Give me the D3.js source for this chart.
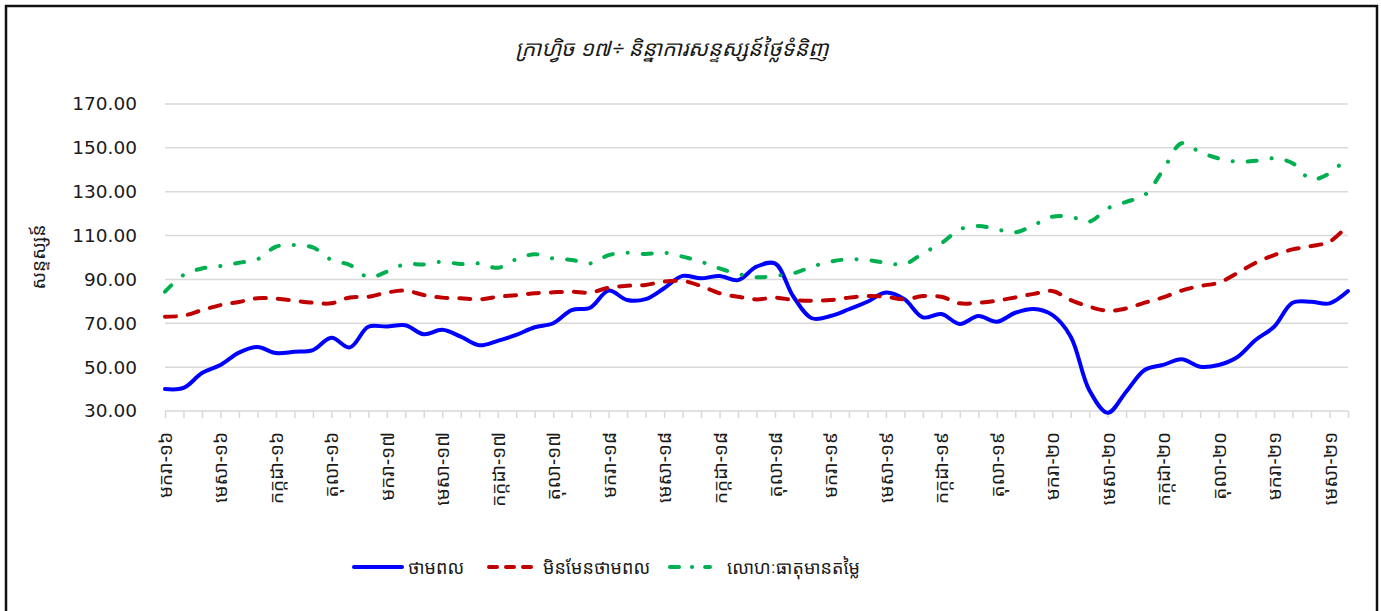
<!DOCTYPE html>
<html>
<head>
<meta charset="utf-8">
<script src="https://cdn.jsdelivr.net/npm/d3@7"></script>
<style>
  body { margin: 0; background: #fff; }
  svg { display: block; }
  .kh { font-family: "Khmer OS", "Noto Sans Khmer", "Noto Serif Khmer", "Noto Sans", "DejaVu Sans", sans-serif; }
</style>
</head>
<body>
<svg id="chart" width="1381" height="611"></svg>
<script>
// month names (Khmer) and years, Jan 2016 .. May 2021
const monthNames = ["មករា", "កុម្ភៈ", "មីនា", "មេសា", "ឧសភា", "មិថុនា", "កក្កដា", "សីហា", "កញ្ញា", "តុលា", "វិច្ឆិកា", "ធ្នូ"];
const years = ["១៦", "១៧", "១៨", "១៩", "២០", "២១"];
const categories = [];
years.forEach(yr => monthNames.forEach(m => categories.push(m + "-" + yr)));
categories.splice(65); // stop at ឧសភា-២១

const yTicks = [30, 50, 70, 90, 110, 130, 150, 170];

// energy
const energy = [40.0, 40.5, 47.3, 51.0, 56.6, 59.2, 56.4, 57.0, 57.8, 63.4,
  59.0, 68.4, 68.5, 69.1, 65.0, 67.0, 63.9, 60.0, 62.0, 64.7,
  68.2, 70.0, 76.0, 77.1, 84.9, 80.6, 81.0, 86.0, 91.6, 90.5,
  91.6, 89.7, 95.8, 97.3, 82.1, 72.3, 73.3, 76.4, 79.8, 84.0,
  81.0, 72.7, 74.2, 69.7, 73.3, 70.7, 74.8, 76.5, 73.8, 63.9,
  39.6, 29.2, 38.8, 48.7, 51.0, 53.6, 50.2, 51.0, 54.5, 62.4,
  68.4, 79.4, 79.8, 79.1, 84.7];
// non-energy
const nonEnergy = [73.0, 73.5, 76.0, 78.3, 79.7, 81.4, 81.2, 80.3, 79.4, 79.1,
  81.8, 82.1, 84.0, 84.9, 82.9, 81.7, 81.4, 80.9, 82.1, 82.8,
  83.7, 84.1, 84.4, 84.0, 86.2, 87.1, 87.5, 89.0, 89.3, 87.0,
  83.7, 82.1, 80.9, 81.7, 80.6, 80.3, 80.6, 81.7, 82.4, 82.1,
  80.9, 82.4, 82.1, 79.1, 79.4, 80.3, 81.8, 83.4, 84.7, 80.6,
  77.6, 75.7, 76.8, 79.4, 81.8, 84.9, 87.0, 88.5, 92.8, 97.6,
  101.1, 103.7, 105.2, 107.2, 114.8];
// precious metals
const metals = [84.4, 92.0, 95.0, 96.1, 97.6, 99.2, 104.9, 105.7, 104.6, 98.9,
  96.6, 91.0, 93.5, 97.0, 96.8, 98.1, 97.0, 97.3, 95.3, 99.2,
  101.5, 99.6, 98.9, 97.3, 101.1, 102.2, 101.6, 102.2, 100.4, 98.1,
  95.0, 92.5, 91.0, 91.6, 92.8, 95.8, 98.1, 99.2, 98.9, 97.6,
  96.9, 101.9, 106.5, 112.8, 114.4, 112.8, 111.5, 114.8, 118.6, 118.6,
  116.3, 122.4, 125.4, 128.5, 139.9, 152.1, 148.0, 145.2, 143.7, 144.1,
  145.2, 143.0, 135.7, 138.4, 146.0];

const seriesNames = ["ថាមពល", "មិនមែនថាមពល", "លោហៈធាតុមានតម្លៃ"];
const series = [
  { name: seriesNames[0], values: energy, color: "#0000ff", dash: null },
  { name: seriesNames[1], values: nonEnergy, color: "#c00000", dash: "11,12" },
  { name: seriesNames[2], values: metals, color: "#00b050", dash: "9,15,0.1,15" }
];

const svg = d3.select("#chart");
const margin = { left: 165, right: 33, top: 104, bottom: 200 };
const W = 1381, H = 611;

// outer frame
svg.append("rect")
  .attr("x", 6).attr("y", 6)
  .attr("width", 1371).attr("height", 620)
  .attr("fill", "#fff").attr("stroke", "#111").attr("stroke-width", 2.5);

const x = d3.scalePoint()
  .domain(categories)
  .range([margin.left, W - margin.right]);

const y = d3.scaleLinear()
  .domain([30, 170])
  .range([411, margin.top]);

// gridlines
svg.append("g")
  .selectAll("line")
  .data(yTicks.filter(d => d > 30))
  .join("line")
  .attr("x1", margin.left).attr("x2", W - margin.right)
  .attr("y1", d => y(d)).attr("y2", d => y(d))
  .attr("stroke", "#d9d9d9").attr("stroke-width", 1.5);

// y axis labels
const yAxis = d3.axisLeft(y).tickValues(yTicks).tickFormat(d3.format(".2f")).tickSize(0).tickPadding(28);
svg.append("g")
  .attr("transform", `translate(${margin.left},0)`)
  .call(yAxis)
  .call(g => g.select(".domain").remove())
  .call(g => g.selectAll("text")
    .attr("font-family", "DejaVu Sans, sans-serif")
    .attr("font-size", 18.5)
    .attr("fill", "#1a1a1a"));

// x axis
const xAxis = d3.axisBottom(x).tickSize(7).tickFormat("");
svg.append("g")
  .attr("transform", "translate(0,411)")
  .call(xAxis)
  .call(g => g.select(".domain").attr("stroke", "#d9d9d9").attr("stroke-width", 1.5).attr("d", `M${margin.left},0H${W - margin.right}`))
  .call(g => g.selectAll(".tick line").attr("stroke", "#d9d9d9").attr("stroke-width", 1.5));

svg.append("g")
  .selectAll("text")
  .data(categories.filter((d, i) => i % 3 === 0))
  .join("text")
  .attr("class", "kh")
  .attr("transform", d => `translate(${x(d) + 7},432) rotate(-90)`)
  .attr("text-anchor", "end")
  .attr("font-size", 19)
  .attr("fill", "#1a1a1a")
  .text(d => d);

// lines
const line = d3.line()
  .x((d, i) => x(categories[i]))
  .y(d => y(d))
  .curve(d3.curveCatmullRom.alpha(0.5));

series.forEach(s => {
  svg.append("path")
    .datum(s.values)
    .attr("fill", "none")
    .attr("stroke", s.color)
    .attr("stroke-width", 4)
    .attr("stroke-linecap", "round")
    .attr("stroke-dasharray", s.dash)
    .attr("d", line);
});

// title
svg.append("text")
  .attr("class", "kh")
  .attr("x", 672).attr("y", 56)
  .attr("text-anchor", "middle")
  .attr("font-size", 21.5)
  .attr("font-style", "italic")
  .attr("fill", "#1a1a1a")
  .text("ក្រាហ្វិច ១៧÷ និន្នាការសន្ទស្សន៍ថ្លៃទំនិញ");

// y axis title
svg.append("text")
  .attr("class", "kh")
  .attr("transform", "translate(45,257) rotate(-90)")
  .attr("text-anchor", "middle")
  .attr("font-size", 19)
  .attr("fill", "#1a1a1a")
  .text("សន្ទស្សន៍");

// legend
const legendX = [352, 487, 668];
const legend = svg.append("g");
series.forEach((s, i) => {
  const g = legend.append("g").attr("transform", `translate(${legendX[i]},567)`);
  g.append("line")
    .attr("x1", 2).attr("x2", i === 2 ? 42 : 50)
    .attr("stroke", s.color).attr("stroke-width", 4)
    .attr("stroke-linecap", "round")
    .attr("stroke-dasharray", i === 1 ? "8,9" : (i === 2 ? "9,13,0.1,13" : null));
  g.append("text")
    .attr("class", "kh")
    .attr("x", i === 2 ? 59 : 56).attr("y", 7)
    .attr("font-size", 18)
    .attr("fill", "#1a1a1a")
    .text(s.name);
});
</script>
</body>
</html>
